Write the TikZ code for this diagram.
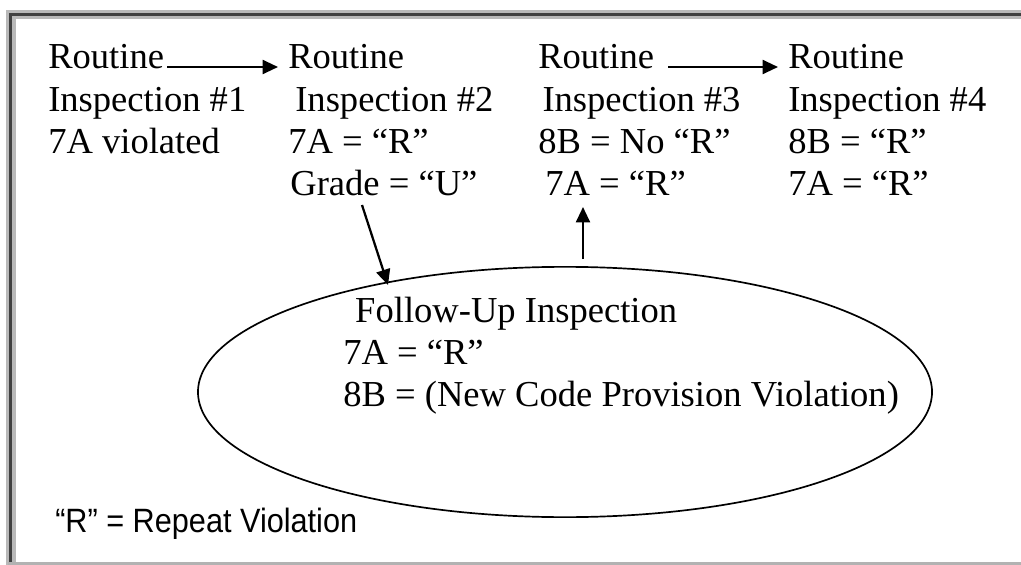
\documentclass[tikz,border=0pt]{standalone}
\usepackage{fontspec}
\setmainfont{Liberation Serif}
\setsansfont{Liberation Sans}
\usetikzlibrary{arrows.meta,shapes.geometric}
\begin{document}
\begin{tikzpicture}[x=0.025cm,y=-0.025cm,
    txt/.style={inner sep=0pt,anchor=base west,align=left,font=\fontsize{26}{29.6}\selectfont},
    arr/.style={line width=1.6pt,-{Triangle[length=11pt,width=10pt]}}]
        \useasboundingbox (0,0) rectangle (1021,565);
        % frame
        \draw[gray!55,line width=6.5pt] (11,565) -- (11,14.5) -- (1025,14.5);
        \draw[black!75,line width=2.5pt] (10.5,565) -- (10.5,14.5) -- (1025,14.5);
        \draw[gray!60,line width=1.5pt] (8,563.5) -- (1025,563.5);
        % routine inspections
        \node[txt] (r1) at (48,69) {Routine};
        \node[txt] (c1) at (48,153) {Inspection \#1\\7A violated};
        \node[txt] (r2) at (288,69) {Routine};
        \node[txt] (c2) at (288,195) {\hspace{5pt}Inspection \#2\\7A = “R”\\\hspace{1.5pt}Grade = “U”};
        \node[txt] (r3) at (538,69) {Routine};
        \node[txt] (c3) at (538,195) {\hspace{3pt}Inspection \#3\\8B = No “R”\\\hspace{5pt}7A = “R”};
        \node[txt] (r4) at (788,69) {Routine};
        \node[txt] (c4) at (788,195) {Inspection \#4\\8B = “R”\\7A = “R”};
        % follow-up
        \node[draw,ellipse,line width=1.2pt,minimum width=522pt,minimum height=178pt,inner sep=0pt] (fu) at (565,392) {};
        \node[txt] (fut) at (343,406) {\hspace{8.5pt}Follow-Up Inspection\\7A = “R”\\8B = (New Code Provision Violation)};
        \node[inner sep=0pt,anchor=base west,font=\sffamily\fontsize{21.8}{26}\selectfont] (key) at (55,532) {\scalebox{1}[1.1]{“R” = Repeat Violation}};
        % arrows
        \coordinate (g) at (362,205);
        \coordinate (gt) at (388,285);
        \coordinate (up) at (583,207);
        \draw[arr] ([shift={(3,-2)}]r1.base east) -- ([shift={(-10,-2)}]r2.base west);
        \draw[arr] ([shift={(-120,-2)}]r4.base west) -- ([shift={(-10,-2)}]r4.base west);
        \draw[arr] (g) -- (gt);
        \draw[arr] ([shift={(18,-7)}]fu.north) -- (up);
    \end{tikzpicture}
\end{document}
